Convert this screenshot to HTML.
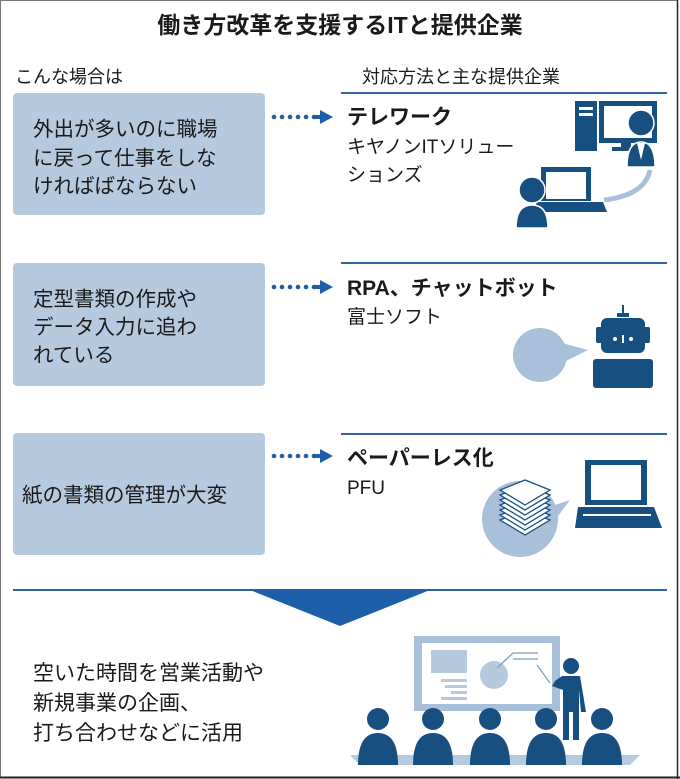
<!DOCTYPE html>
<html><head><meta charset="utf-8"><style>
html,body{margin:0;padding:0;background:#fff;}
svg{display:block;}
text{font-family:"Liberation Sans","Noto Sans CJK JP",sans-serif;fill:#1a1a1a;}
.b{font-weight:bold;}
</style></head><body>
<svg width="680" height="779" viewBox="0 0 680 779" xmlns="http://www.w3.org/2000/svg">
<rect x="0.5" y="0.5" width="677" height="777" fill="#fff" stroke="#777" stroke-width="1"/>
<line x1="0" y1="777.5" x2="680" y2="777.5" stroke="#222" stroke-width="2"/>
<line x1="677.5" y1="0" x2="677.5" y2="779" stroke="#222" stroke-width="1.5"/>

<text x="340" y="33" text-anchor="middle" font-size="23" class="b">働き方改革を支援するITと提供企業</text>
<text x="15" y="83" font-size="18">こんな場合は</text>
<text x="362" y="83" font-size="18">対応方法と主な提供企業</text>

<g fill="#b5c9df">
<rect x="13" y="93" width="252" height="122" rx="4"/>
<rect x="13" y="263" width="252" height="123" rx="4"/>
<rect x="13" y="433" width="252" height="122" rx="4"/>
</g>
<g font-size="20.5">
<text x="33" y="136">外出が多いのに職場</text>
<text x="33" y="165">に戻って仕事をしな</text>
<text x="33" y="193">ければばならない</text>
<text x="33" y="306">定型書類の作成や</text>
<text x="33" y="334">データ入力に追わ</text>
<text x="33" y="362">れている</text>
<text x="22" y="502">紙の書類の管理が大変</text>
</g>

<g fill="#1d5ea8">
<g id="ar">
<circle cx="274" cy="117" r="2.3"/><circle cx="282" cy="117" r="2.3"/><circle cx="290" cy="117" r="2.3"/><circle cx="298" cy="117" r="2.3"/><circle cx="306" cy="117" r="2.3"/><circle cx="314" cy="117" r="2.3"/>
<rect x="314" y="115" width="8" height="4"/>
<polygon points="320,110 333,117 320,124"/>
</g>
<use href="#ar" y="170"/>
<use href="#ar" y="339"/>
</g>

<g stroke="#2d64a3" stroke-width="2">
<line x1="341" y1="93" x2="667" y2="93"/>
<line x1="341" y1="263" x2="667" y2="263"/>
<line x1="341" y1="434" x2="667" y2="434"/>
<line x1="13" y1="590" x2="667" y2="590"/>
</g>
<polygon points="250,590 430,590 340,626" fill="#1d5ea8"/>

<text x="347" y="124" font-size="21" class="b">テレワーク</text>
<text x="347" y="153" font-size="19">キヤノンITソリュー</text>
<text x="347" y="181" font-size="19">ションズ</text>
<text x="347" y="295" font-size="21" class="b">RPA、チャットボット</text>
<text x="347" y="323" font-size="19">富士ソフト</text>
<text x="347" y="465" font-size="21" class="b">ペーパーレス化</text>
<text x="347" y="494" font-size="19">PFU</text>

<g font-size="21">
<text x="33" y="680">空いた時間を営業活動や</text>
<text x="33" y="710">新規事業の企画、</text>
<text x="33" y="740">打ち合わせなどに活用</text>
</g>

<!-- telework icon -->
<path d="M604,200 Q645,195 650,170" stroke="#a9c0da" stroke-width="5" fill="none"/>
<g fill="#164f80">
<rect x="575" y="101" width="22" height="50"/>
<rect x="599" y="101" width="58" height="42"/>
<rect x="621" y="143" width="10" height="5"/><rect x="612" y="147" width="28" height="4"/>
<rect x="541" y="167" width="50" height="34" />
<polygon points="537,202 603,202 607,212 533,212"/>
</g>
<rect x="579" y="107" width="14" height="3" fill="#fff"/><rect x="579" y="113" width="14" height="3" fill="#fff"/>
<rect x="604" y="106" width="48" height="32" fill="#fff"/>
<rect x="546" y="172" width="40" height="27" fill="#fff"/>
<g fill="#164f80" stroke="#fff" stroke-width="1.5">
<circle cx="641" cy="123" r="13"/>
<path d="M627,167 Q627,142 641,142 Q655,142 655,167 Z"/>
<circle cx="532" cy="190" r="13"/>
<path d="M516,228 Q516,205 532,205 Q548,205 548,228 Z"/>
</g>
<path d="M637,143 L641,160 L645,143" fill="#fff"/>

<!-- robot -->
<circle cx="540" cy="355" r="27" fill="#a9c0da"/>
<polygon points="562,343 588,350 564,362" fill="#a9c0da"/>
<g fill="#164f80">
<rect x="622" y="305" width="2" height="8"/><rect x="617" y="313" width="12" height="4"/>
<rect x="601" y="318" width="44" height="35" rx="6"/>
<rect x="596" y="327" width="6" height="16" rx="2"/><rect x="644" y="327" width="6" height="16" rx="2"/>
<rect x="593" y="359" width="60" height="29" rx="3"/>
</g>
<circle cx="615" cy="339" r="2" fill="#fff"/><circle cx="631" cy="339" r="2" fill="#fff"/><rect x="622" y="335" width="2" height="8" fill="#fff"/>

<!-- paperless -->
<circle cx="520" cy="519" r="38" fill="#a9c0da"/>
<polygon points="540,510 570,500 555,520" fill="#a9c0da"/>
<g fill="#fff" stroke="#164f80" stroke-width="1.3">
<polygon points="500,520 525,510 550,520 525,535"/>
<polygon points="500,515 525,505 550,515 525,530"/>
<polygon points="500,510 525,500 550,510 525,525"/>
<polygon points="500,505 525,495 550,505 525,520"/>
<polygon points="500,500 525,490 550,500 525,515"/>
<polygon points="500,495 525,485 550,495 525,510"/>
<polygon points="500,490 525,480 550,490 525,505"/>
</g>
<g fill="#164f80">
<rect x="585" y="460" width="62" height="45"/>
<polygon points="578,507 654,507 662,528 575,528"/>
</g>
<rect x="591" y="465" width="50" height="35" fill="#fff"/>
<rect x="583" y="514" width="68" height="2" fill="#fff"/>

<!-- presentation -->
<rect x="414" y="636" width="146" height="75" fill="#a9c0da"/>
<rect x="422" y="643" width="130" height="61" fill="#fff"/>
<rect x="431" y="650" width="36" height="23" fill="#b5c9df"/>
<g fill="#b5c9df"><rect x="441" y="679" width="26" height="3"/><rect x="445" y="685" width="22" height="3"/><rect x="451" y="691" width="16" height="3"/><rect x="441" y="697" width="26" height="3"/></g>
<circle cx="494" cy="675" r="14" fill="#b5c9df"/>
<path d="M497,668 L513,653 L538,653 M513,659 L538,659 M537,665 L550,683" stroke="#7d9bbd" stroke-width="1.2" fill="none"/>
<polygon points="350,755 640,755 630,765 360,765" fill="#b5c9df"/>
<g fill="#164f80">
<circle cx="571" cy="666" r="8"/>
<path d="M562,676 L580,676 L586,712 L581,712 L579,690 L579,740 L573,740 L573,712 L569,712 L569,740 L563,740 L563,690 L552,686 L555,681 Z"/>
<g id="p"><circle cx="378" cy="719" r="11"/><path d="M358,765 Q358,733 378,733 Q398,733 398,765 Z"/></g>
<use href="#p" x="55"/><use href="#p" x="112"/><use href="#p" x="168"/><use href="#p" x="224"/>
</g>
</svg>
</body></html>
